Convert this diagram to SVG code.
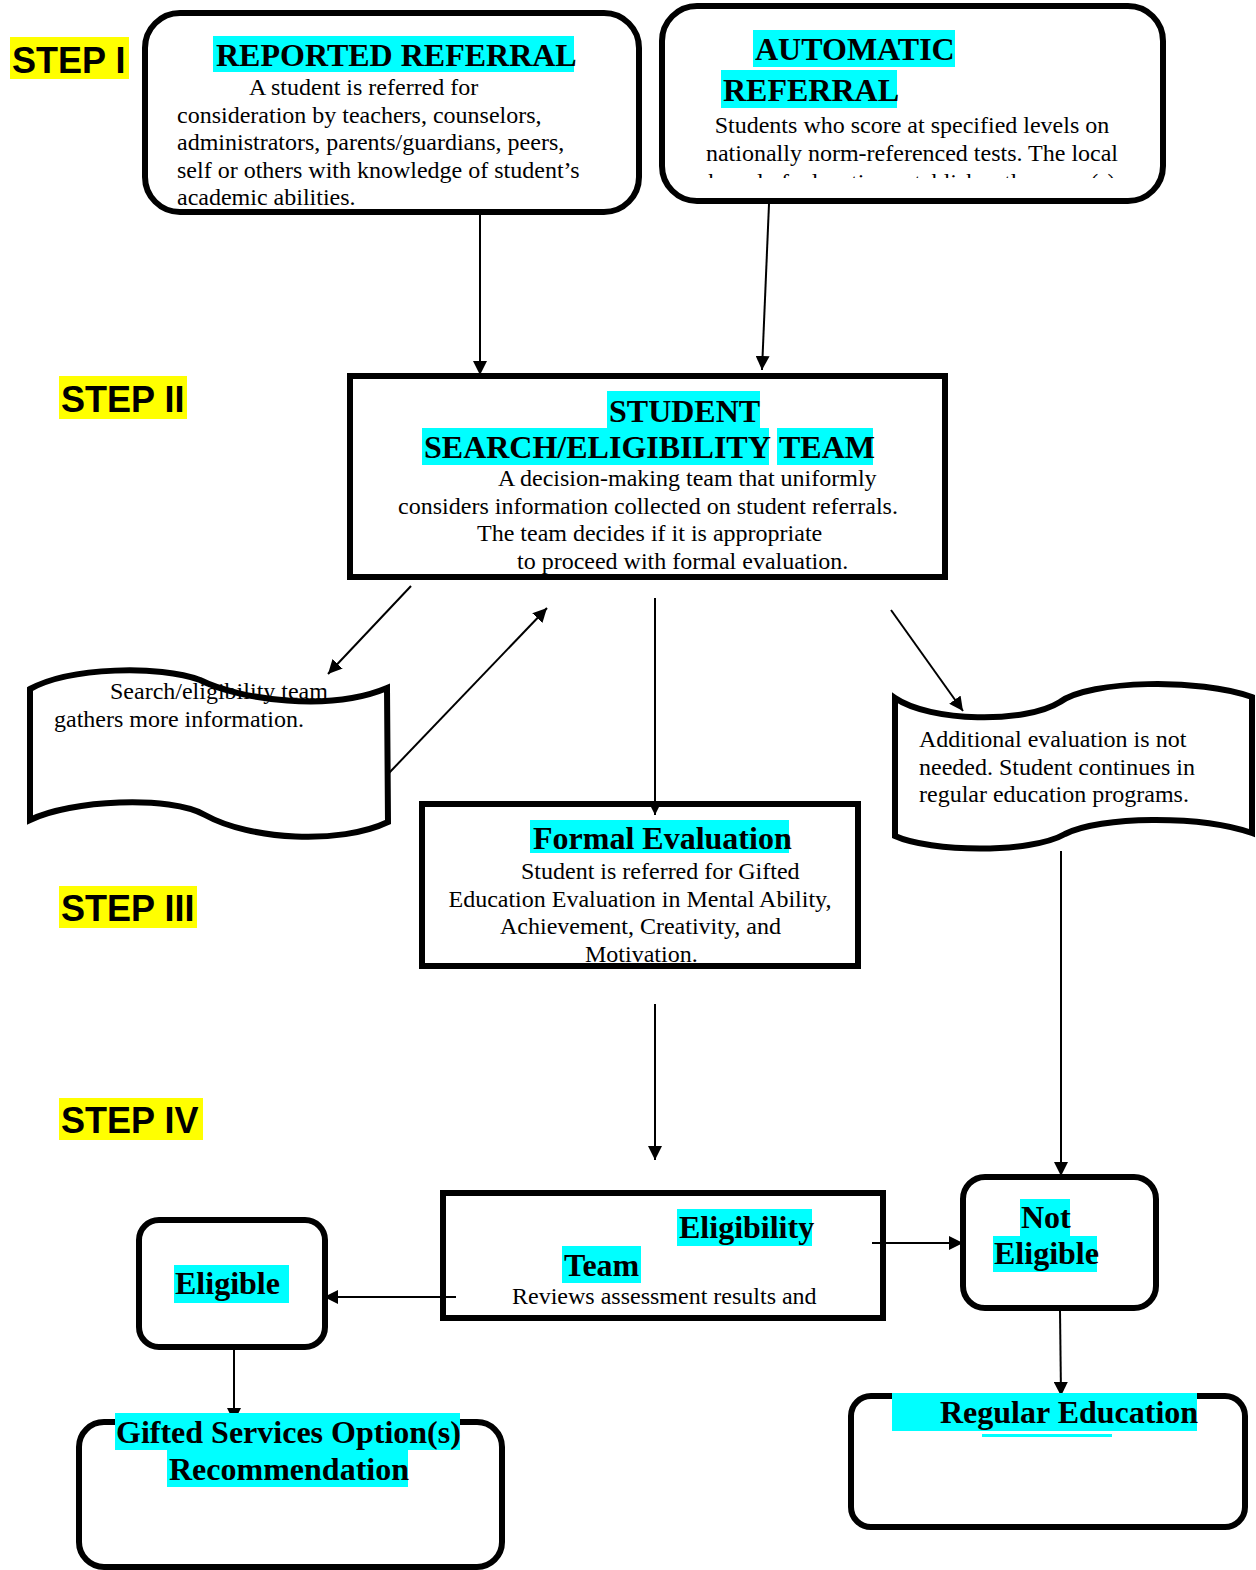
<svg xmlns="http://www.w3.org/2000/svg" width="1256" height="1570" viewBox="0 0 1256 1570">
<style>
.step{font-family:"Liberation Sans",Arial,sans-serif;font-weight:bold;font-size:36px;fill:#000}
.hy{fill:#ffff00}
.hc{fill:#00ffff}
.h{font-family:"Liberation Serif","Times New Roman",serif;font-weight:bold;font-size:32px;fill:#000}
.b{font-family:"Liberation Serif","Times New Roman",serif;font-size:24px;fill:#000}
.box{fill:none;stroke:#000;stroke-width:6}
.bg{fill:#fff;stroke:none}
.con{fill:none;stroke:#000;stroke-width:2}
</style>
<defs>
<marker id="ah" viewBox="0 0 12 12" refX="12" refY="6" markerWidth="14" markerHeight="14" orient="auto" markerUnits="userSpaceOnUse"><path d="M0,0 L12,6 L0,12 z" fill="#000"/></marker>
<clipPath id="clipAuto"><rect x="660" y="0" width="510" height="178"/></clipPath>
</defs>
<rect width="1256" height="1570" fill="#fff"/>

<g id="steps">
<rect class="hy" x="10" y="37" width="119" height="42"/>
<text class="step" x="12" y="73">STEP I</text>
<rect class="hy" x="59" y="376" width="128" height="43"/>
<text class="step" x="61" y="412">STEP II</text>
<rect class="hy" x="59" y="886" width="138" height="42"/>
<text class="step" x="61" y="921">STEP III</text>
<rect class="hy" x="59" y="1098" width="144" height="42"/>
<text class="step" x="61" y="1133">STEP IV</text>
</g>

<g id="reported-referral">
<rect class="bg" x="145" y="13" width="494" height="199" rx="35"/>
<rect class="hc" x="213" y="36" width="361" height="36"/>
<text class="h" x="216" y="66">REPORTED REFERRAL</text>
<text class="b" x="249" y="95">A student is referred for</text>
<text class="b" x="177" y="123">consideration by teachers, counselors,</text>
<text class="b" x="177" y="150">administrators, parents/guardians, peers,</text>
<text class="b" x="177" y="178">self or others with knowledge of student’s</text>
<text class="b" x="177" y="205">academic abilities.</text>
<rect class="box" x="145" y="13" width="494" height="199" rx="35"/>
</g>

<g id="automatic-referral">
<rect class="bg" x="662" y="6" width="501" height="195" rx="35"/>
<rect class="hc" x="753" y="30" width="202" height="37"/>
<text class="h" x="755" y="60">AUTOMATIC</text>
<rect class="hc" x="721" y="70" width="176" height="38"/>
<text class="h" x="723" y="101">REFERRAL</text>
<text class="b" x="912" y="133" text-anchor="middle">Students who score at specified levels on</text>
<text class="b" x="912" y="161" text-anchor="middle">nationally norm-referenced tests. The local</text>
<text class="b" x="912" y="190" text-anchor="middle" clip-path="url(#clipAuto)">board of education establishes the score(s)</text>
<rect class="box" x="662" y="6" width="501" height="195" rx="35"/>
</g>

<g id="search-team">
<rect class="bg" x="350" y="376" width="595" height="201"/>
<rect class="hc" x="607" y="391" width="153" height="37"/>
<text class="h" x="609" y="422">STUDENT</text>
<rect class="hc" x="422" y="428" width="347" height="37"/>
<text class="h" x="424" y="458">SEARCH/ELIGIBILITY</text>
<rect class="hc" x="777" y="428" width="96" height="37"/>
<text class="h" x="779" y="458">TEAM</text>
<text class="b" x="498" y="486">A decision-making team that uniformly</text>
<text class="b" x="648" y="514" text-anchor="middle">considers information collected on student referrals.</text>
<text class="b" x="477" y="541">The team decides if it is appropriate</text>
<text class="b" x="517" y="569">to proceed with formal evaluation.</text>
<rect class="box" x="350" y="376" width="595" height="201"/>
</g>

<g id="gather-info">
<path class="bg" d="M30,689 C70,667 160,665 200,680 C240,700 330,712 387,688 L388,822 C340,845 250,840 205,815 C170,795 70,800 30,820 Z"/>
<text class="b" x="110" y="699">Search/eligibility team</text>
<text class="b" x="54" y="727">gathers more information.</text>
<path class="box" d="M30,689 C70,667 160,665 200,680 C240,700 330,712 387,688 L388,822 C340,845 250,840 205,815 C170,795 70,800 30,820 Z"/>
</g>

<g id="no-evaluation">
<path class="bg" d="M895,698 C930,722 1025,724 1060,702 C1090,680 1200,678 1252,697 L1252,833 C1200,815 1100,816 1065,834 C1030,854 930,852 895,836 Z"/>
<text class="b" x="919" y="747">Additional evaluation is not</text>
<text class="b" x="919" y="775">needed. Student continues in</text>
<text class="b" x="919" y="802">regular education programs.</text>
<path class="box" d="M895,698 C930,722 1025,724 1060,702 C1090,680 1200,678 1252,697 L1252,833 C1200,815 1100,816 1065,834 C1030,854 930,852 895,836 Z"/>
</g>

<g id="formal-evaluation">
<rect class="bg" x="422" y="804" width="436" height="162"/>
<rect class="hc" x="530" y="820" width="259" height="33"/>
<text class="h" x="533" y="849">Formal Evaluation</text>
<text class="b" x="521" y="879">Student is referred for Gifted</text>
<text class="b" x="640" y="907" text-anchor="middle">Education Evaluation in Mental Ability,</text>
<text class="b" x="500" y="934">Achievement, Creativity, and</text>
<text class="b" x="585" y="962">Motivation.</text>
<rect class="box" x="422" y="804" width="436" height="162"/>
</g>

<g id="eligibility-team">
<rect class="box" x="443" y="1193" width="440" height="125"/>
<rect class="hc" x="677" y="1209" width="135" height="37"/>
<text class="h" x="679" y="1238">Eligibility</text>
<rect class="hc" x="562" y="1246" width="79" height="37"/>
<text class="h" x="564" y="1276">Team</text>
<text class="b" x="512" y="1304">Reviews assessment results and</text>
</g>

<g id="not-eligible">
<rect class="box" x="963" y="1177" width="193" height="131" rx="22"/>
<rect class="hc" x="1020" y="1199" width="50" height="37"/>
<text class="h" x="1021" y="1228">Not</text>
<rect class="hc" x="993" y="1236" width="104" height="36"/>
<text class="h" x="994" y="1264">Eligible</text>
</g>

<g id="eligible">
<rect class="box" x="139" y="1220" width="186" height="127" rx="20"/>
<rect class="hc" x="174" y="1265" width="115" height="38"/>
<text class="h" x="175" y="1294">Eligible</text>
</g>

<g id="connectors">
<line class="con" x1="480" y1="214" x2="480" y2="375" marker-end="url(#ah)"/>
<line class="con" x1="769" y1="204" x2="762" y2="370" marker-end="url(#ah)"/>
<line class="con" x1="411" y1="586" x2="328" y2="674" marker-end="url(#ah)"/>
<line class="con" x1="389" y1="773" x2="547" y2="608" marker-end="url(#ah)"/>
<line class="con" x1="655" y1="598" x2="655" y2="815" marker-end="url(#ah)"/>
<line class="con" x1="891" y1="610" x2="963" y2="711" marker-end="url(#ah)"/>
<line class="con" x1="1061" y1="851" x2="1061" y2="1176" marker-end="url(#ah)"/>
<line class="con" x1="655" y1="1004" x2="655" y2="1160" marker-end="url(#ah)"/>
<line class="con" x1="872" y1="1243" x2="963" y2="1243" marker-end="url(#ah)"/>
<line class="con" x1="456" y1="1297" x2="324" y2="1297" marker-end="url(#ah)"/>
<line class="con" x1="1060" y1="1310" x2="1061" y2="1396" marker-end="url(#ah)"/>
<line class="con" x1="234" y1="1349" x2="234" y2="1422" marker-end="url(#ah)"/>
</g>

<g id="gifted-services">
<rect class="box" x="79" y="1422" width="423" height="145" rx="25"/>
<rect class="hc" x="115" y="1413" width="345" height="37"/>
<text class="h" x="116" y="1443">Gifted Services Option(s)</text>
<rect class="hc" x="167" y="1450" width="241" height="37"/>
<text class="h" x="169" y="1480">Recommendation</text>
</g>

<g id="regular-education">
<rect class="box" x="851" y="1396" width="394" height="131" rx="20"/>
<rect class="hc" x="892" y="1393" width="305" height="38"/>
<text class="h" x="940" y="1423">Regular Education</text>
<rect class="hc" x="982" y="1434" width="130" height="3"/>
</g>
</svg>
